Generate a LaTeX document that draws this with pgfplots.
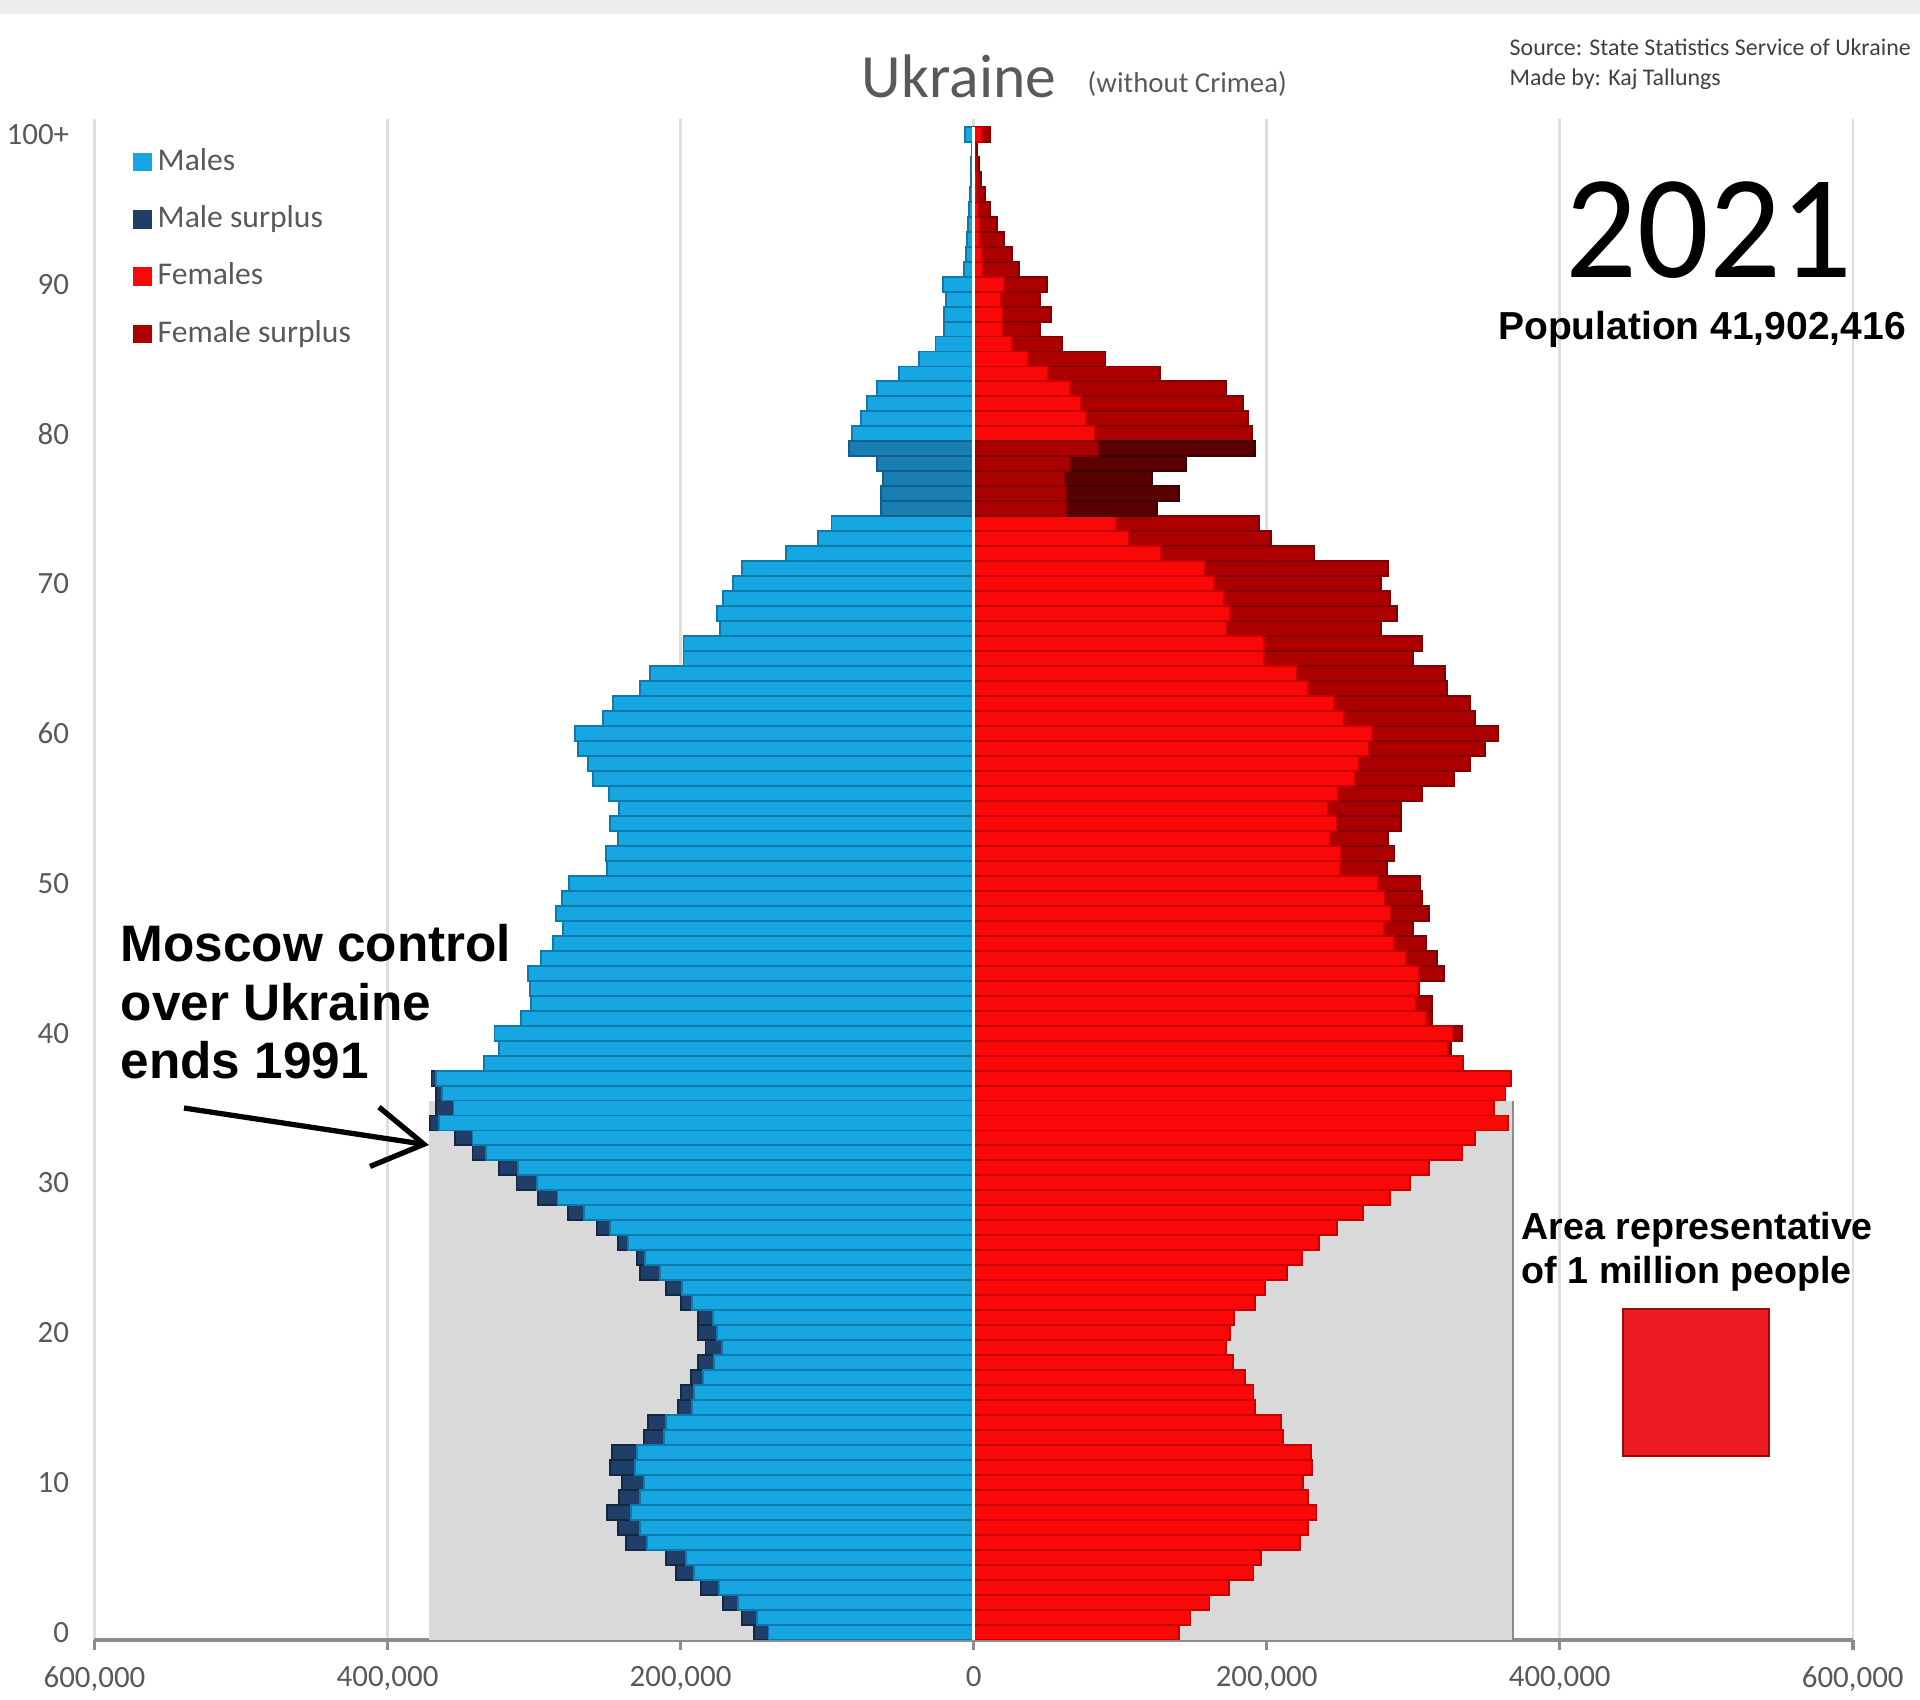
\documentclass[border=0pt]{standalone}
\usepackage{fontspec}
\setmainfont{Carlito}
\newfontfamily\arial{Liberation Sans}
\usepackage{pgfplots}
\pgfplotsset{compat=1.18}
\usepackage{pgfplotstable}
\usetikzlibrary{arrows.meta}

\definecolor{mblue}{RGB}{22,166,226}
\definecolor{mblueline}{RGB}{14,122,172}
\definecolor{msur}{RGB}{31,62,104}
\definecolor{msurline}{RGB}{20,40,70}
\definecolor{fred}{RGB}{250,8,8}
\definecolor{fredline}{RGB}{200,0,0}
\definecolor{fsur}{RGB}{172,0,0}
\definecolor{fsurline}{RGB}{128,0,0}
\definecolor{ovblue}{RGB}{24,126,180}
\definecolor{ovblueline}{RGB}{16,95,140}
\definecolor{ovred}{RGB}{170,0,0}
\definecolor{ovredline}{RGB}{130,0,0}
\definecolor{ovsur}{RGB}{90,0,0}
\definecolor{ovsurline}{RGB}{60,0,0}
\definecolor{bggray}{RGB}{217,217,217}
\definecolor{gridgray}{RGB}{222,222,222}
\definecolor{txtgray}{RGB}{89,89,89}
\definecolor{axgray}{RGB}{140,140,140}
\definecolor{sqred}{RGB}{237,28,36}
\definecolor{sqedge}{RGB}{150,10,10}
\definecolor{topgray}{RGB}{236,236,236}

% age, males, females, min(males,females)  (thousands)
\pgfplotstableread{
a M F mn
0 150 140 140
1 158 148 148
2 171 161 161
3 186 174 174
4 203 191 191
5 210 196 196
6 237 223 223
7 243 228 228
8 250 234 234
9 242 228 228
10 240 225 225
11 248 231 231
12 247 230 230
13 225 211 211
14 222 210 210
15 202 192 192
16 200 191 191
17 193 185 185
18 188 177 177
19 183 172 172
20 188 175 175
21 188 178 178
22 200 192 192
23 210 199 199
24 228 214 214
25 230 224 224
26 243 236 236
27 257 248 248
28 277 266 266
29 297 284 284
30 312 298 298
31 324 311 311
32 342 333 333
33 354 342 342
34 371 365 365
35 367 355 355
36 367 363 363
37 370 367 367
38 334 334 334
39 324 326 324
40 327 333 327
41 309 313 309
42 302 313 302
43 303 304 303
44 304 321 304
45 295 316 295
46 287 309 287
47 280 300 280
48 285 311 285
49 281 306 281
50 276 305 276
51 250 282 250
52 251 287 251
53 243 283 243
54 248 292 248
55 242 292 242
56 249 306 249
57 260 328 260
58 263 339 263
59 270 349 270
60 272 358 272
61 253 342 253
62 246 339 246
63 228 323 228
64 221 322 221
65 198 300 198
66 198 306 198
67 173 278 173
68 175 289 175
69 171 284 171
70 164 278 164
71 158 283 158
72 128 232 128
73 106 203 106
74 97 195 97
75 63 125 63
76 63 140 63
77 62 122 62
78 66 145 66
79 85 192 85
80 83 190 83
81 77 187 77
82 73 184 73
83 66 172 66
84 51 127 51
85 37 90 37
86 26 60 26
87 20 45 20
88 20 53 20
89 19 45 19
90 21 50 21
91 6.5 31 6.5
92 5.5 26 5.5
93 4.5 21 4.5
94 4 16 4
95 3 11 3
96 2.5 7.5 2.5
97 2 5 2
98 1.5 3.5 1.5
99 1 2 1
100 6 11 6
}\pyr

% highlighted war-time cohorts (ages 75-79)
\pgfplotstableread{
a M F
75 63 125
76 63 140
77 62 122
78 66 145
79 85 192
}\pyrov

\begin{document}
\begin{tikzpicture}
\useasboundingbox (0,0) rectangle (19.2,16.99);
\fill[topgray] (0,16.85) rectangle (19.2,16.99);
\begin{axis}[
  at={(0.945cm,0.592cm)}, anchor=south west,
  scale only axis, width=17.582cm, height=15.205cm,
  xmin=-600, xmax=600, ymin=-0.5, ymax=101,
  axis x line*=bottom, axis y line*=left,
  x axis line style={-, draw=axgray, line width=1pt},
  y axis line style={draw=none},
  xtick={-600,-400,-200,0,200,400,600},
  xticklabels={{600,000},{400,000},{200,000},{0},{200,000},{400,000},{600,000}},
  ytick={0,10,20,30,40,50,60,70,80,90,100},
  yticklabels={0,10,20,30,40,50,60,70,80,90,100+},
  tick align=outside, major tick length=0.1cm,
  xtick style={draw=axgray, line width=1pt},
  ytick style={draw=none},
  xmajorgrids, grid style={gridgray, line width=0.7pt},
  ticklabel style={font=\fontsize{8.8}{10}\selectfont, text=txtgray},
  xticklabel style={yshift=-0.04cm},
  yticklabel style={xshift=-0.03cm},
  legend image code/.code={\fill[#1] (0cm,-0.085cm) rectangle (0.17cm,0.085cm);},
  legend style={at={(axis cs:-574,99.5)}, anchor=north west, draw=none, fill=none,
    font=\fontsize{9}{10}\selectfont, text=txtgray, row sep=0.18cm, inner sep=0pt,
    nodes={inner sep=0.06cm}},
  legend cell align=left,
]
\addlegendimage{mblue}\addlegendentry{Males}
\addlegendimage{msur}\addlegendentry{Male surplus}
\addlegendimage{fred}\addlegendentry{Females}
\addlegendimage{fsur}\addlegendentry{Female surplus}

% grey reference block
\addplot[fill=bggray, draw=none, forget plot] coordinates {(-371.6,-0.5) (368,-0.5) (368,35.5) (-371.6,35.5)} -- cycle;
\addplot[axgray, line width=0.6pt, forget plot] coordinates {(368,-0.5) (368,35.5)};

% males
\addplot[xbar, bar shift=0pt, bar width=1, fill=msur, draw=msurline, line width=0.55pt, forget plot]
  table[x expr=-\thisrow{M}, y=a] {\pyr};
\addplot[xbar, bar shift=0pt, bar width=1, fill=mblue, draw=mblueline, line width=0.55pt, forget plot]
  table[x expr=-\thisrow{mn}, y=a] {\pyr};
% females
\addplot[xbar, bar shift=0pt, bar width=1, fill=fsur, draw=fsurline, line width=0.55pt, forget plot]
  table[x=F, y=a] {\pyr};
\addplot[xbar, bar shift=0pt, bar width=1, fill=fred, draw=fredline, line width=0.55pt, forget plot]
  table[x=mn, y=a] {\pyr};
% highlighted cohorts
\addplot[xbar, bar shift=0pt, bar width=1, fill=ovblue, draw=ovblueline, line width=0.55pt, forget plot]
  table[x expr=-\thisrow{M}, y=a] {\pyrov};
\addplot[xbar, bar shift=0pt, bar width=1, fill=ovsur, draw=ovsurline, line width=0.55pt, forget plot]
  table[x=F, y=a] {\pyrov};
\addplot[xbar, bar shift=0pt, bar width=1, fill=ovred, draw=ovredline, line width=0.55pt, forget plot]
  table[x=M, y=a] {\pyrov};

\addplot[white, line width=1pt, forget plot] coordinates {(0,-0.5) (0,100.5)};

% square: area of 1 million people
\addplot[fill=sqred, draw=sqedge, line width=0.6pt, forget plot] coordinates {(443,11.8) (543,11.8) (543,21.6) (443,21.6)} -- cycle;
\end{axis}

\node[anchor=base, text=txtgray, font=\fontsize{17.5}{20}\selectfont] at (9.59,16.01) {Ukraine};
\node[anchor=base west, inner sep=0pt, text=txtgray, font=\fontsize{8.2}{10}\selectfont] at (10.87,16.06) {(without Crimea)};
\node[anchor=base west, inner sep=0pt, text=black!75, font=\fontsize{6.8}{7}\selectfont] at (15.09,16.43) {Source: State Statistics Service of Ukraine};
\node[anchor=base west, inner sep=0pt, text=black!75, font=\fontsize{6.8}{7}\selectfont] at (15.09,16.13) {Made by: Kaj Tallungs};
\node[anchor=base, inner sep=0pt, xscale=0.96, font=\fontsize{42}{42}\selectfont] at (17.09,14.21) {2021};
\node[anchor=base, inner sep=0pt, font=\arial\bfseries\fontsize{11.1}{12}\selectfont] at (17.02,13.59) {Population 41,902,416};

\node[anchor=base west, inner sep=0pt, font=\arial\bfseries\fontsize{14.6}{16}\selectfont] at (1.20,7.38) {Moscow control};
\node[anchor=base west, inner sep=0pt, font=\arial\bfseries\fontsize{14.6}{16}\selectfont] at (1.20,6.79) {over Ukraine};
\node[anchor=base west, inner sep=0pt, font=\arial\bfseries\fontsize{14.6}{16}\selectfont] at (1.20,6.21) {ends 1991};
\draw[line width=1.5pt, -{Straight Barb[length=0.5cm, width=0.6cm, line width=1.5pt]}] (1.84,5.91) -- (4.29,5.54);

\node[anchor=base west, inner sep=0pt, font=\arial\bfseries\fontsize{10.7}{12}\selectfont] at (15.21,4.60) {Area representative};
\node[anchor=base west, inner sep=0pt, font=\arial\bfseries\fontsize{10.7}{12}\selectfont] at (15.21,4.16) {of 1 million people};
\end{tikzpicture}
\end{document}
